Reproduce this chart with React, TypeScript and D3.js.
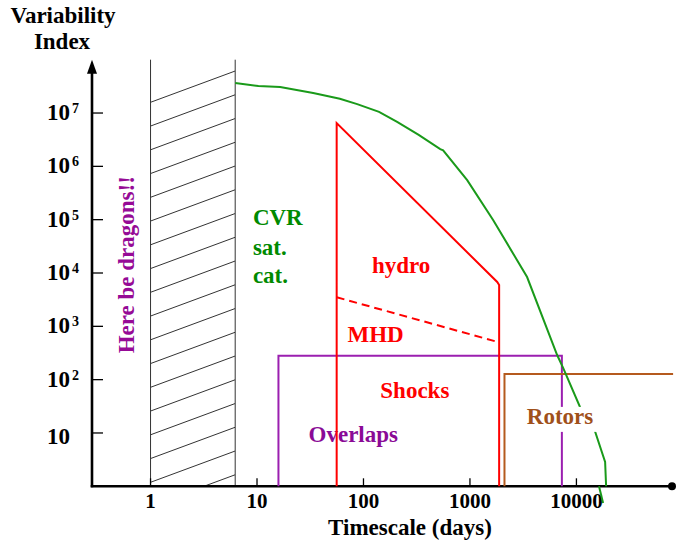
import * as d3 from "d3";

// x: timescale in days, y: variability index
const xTicks = [1, 10, 100, 1000, 10000];
const xTickLabels = ["1", "10", "100", "1000", "10000"];
const yTicks = [10, 1e2, 1e3, 1e4, 1e5, 1e6, 1e7];
const yTickExp = [1, 2, 3, 4, 5, 6, 7];

// CVR saturation catastrophe curve
const cvrDays = [6.24, 10.3, 16.5, 33.7, 60, 87.3, 140, 207, 330, 526, 560, 942, 1650, 3440, 6590, 7500, 10800, 14700, 18600, 19000];
const cvrIndex = [3.66e7, 3.2e7, 3.08e7, 2.37e7, 1.85e7, 1.47e7, 1.05e7, 6.8e6, 3.9e6, 2.1e6, 2.0e6, 5.5e5, 9.9e4, 8400, 290, 166, 30.8, 11.9, 2.86, 1];
const cvrTailDays = [16300, 17800];
const cvrTailIndex = [1, 0.487];

// hydro shocks region
const hydroDays = [56, 56, 1803, 1880, 1880];
const hydroIndex = [1, 6.46e6, 6780, 5960, 1];
// MHD dashed limit
const mhdDays = [56, 1790];
const mhdIndex = [3510, 515];
// overlaps box
const overlapDays = [15.9, 15.9, 7300, 7300];
const overlapIndex = [1, 282, 282, 1];
// rotors
const rotorDays = [2110, 2110, 80900];
const rotorIndex = [1, 127, 127];
// hatched "dragons" band
const dragonDays = [1, 6.24];

// annotation anchors (data coords)
const notes = [
  { text: "CVR", x: 9.15, y: 7.9e4, color: "#008a00" },
  { text: "sat.", x: 9.15, y: 2.18e4, color: "#008a00" },
  { text: "cat.", x: 9.15, y: 6580, color: "#008a00" },
  { text: "hydro", x: 120, y: 1.01e4, color: "#ff0000" },
  { text: "MHD", x: 70.8, y: 515, color: "#ff0000" },
  { text: "Shocks", x: 144, y: 44.8, color: "#ff0000" },
];

const W = 676,
  H = 547;
const FONT = "'Liberation Serif', 'Times New Roman', serif";
const PURPLE = "#9b1fb0";
const BROWN = "#b55a1e";
const GREEN = "#1a9a1a";
const RED = "#ff0000";

const App = () => {
  const xScale = d3.scaleLog().domain([0.282, 79000]).range([92, 672]);
  const yScale = d3.scaleLog().domain([1, 1e8]).range([486.3, 59.7]);

  const line = d3
    .line<[number, number]>()
    .x((d) => xScale(d[0]))
    .y((d) => yScale(d[1]));
  const path = (xs: number[], ys: number[]) =>
    line(xs.map((v, i) => [v, ys[i]]) as [number, number][]) || "";

  const x0 = xScale(0.282);
  const y0 = yScale(1);
  const yTop = yScale(1e8);

  // hatch
  const hx0 = xScale(dragonDays[0]);
  const hx1 = xScale(dragonDays[1]);
  const hatch = d3.range(0, 18).map((k) => {
    const ly = 102.3 + 23.75 * k;
    return (
      <line key={k} x1={hx0} y1={ly} x2={hx1} y2={ly - 31.3} stroke="#333" strokeWidth={1} />
    );
  });

  const rotorX = xScale(3420);
  const rotorY = yScale(14.8);

  return (
    <svg
      width={W}
      height={H}
      style={{ position: "absolute", left: 0, top: 0, background: "#fff" }}
      fontFamily={FONT}
      fontWeight="bold"
    >
      <defs>
        <clipPath id="hatchClip">
          <rect x={hx0} y={yTop} width={hx1 - hx0} height={y0 - yTop} />
        </clipPath>
      </defs>

      {/* axis titles */}
      <text x={63} y={23} textAnchor="middle" fontSize={23}>Variability</text>
      <text x={62} y={49} textAnchor="middle" fontSize={23}>Index</text>
      <text x={410} y={535} textAnchor="middle" fontSize={23}>Timescale (days)</text>

      {/* hatched band */}
      <g clipPath="url(#hatchClip)">{hatch}</g>
      <line x1={hx0} x2={hx0} y1={yTop} y2={y0} stroke="#333" strokeWidth={1} />
      <line x1={hx1} x2={hx1} y1={yTop} y2={y0} stroke="#333" strokeWidth={1} />

      {/* Here be dragons */}
      <text
        transform={`translate(${xScale(0.692)},${yScale(312)}) rotate(-90)`}
        fontSize={23}
        fill="#960a96"
      >
        Here be dragons!!
      </text>

      {/* axes */}
      <line x1={x0} x2={x0} y1={y0 + 1} y2={yTop + 10} stroke="#000" strokeWidth={2.6} />
      <polygon points={`${x0},${yTop} ${x0 - 5},${yTop + 14} ${x0 + 5},${yTop + 14}`} fill="#000" />
      <line x1={x0 - 1.3} x2={672} y1={y0} y2={y0} stroke="#000" strokeWidth={2.6} />
      <circle cx={672} cy={y0} r={4} fill="#000" />

      {yTicks.map((v, i) => (
        <g key={v}>
          <line x1={x0} x2={x0 + 11} y1={yScale(v)} y2={yScale(v)} stroke="#000" strokeWidth={1.3} />
          <text x={47} y={yScale(v) + (yTickExp[i] === 1 ? 11 : 7)} fontSize={23}>10</text>
          {yTickExp[i] !== 1 && (
            <text x={72} y={yScale(v)} fontSize={14}>{yTickExp[i]}</text>
          )}
        </g>
      ))}
      {xTicks.map((v, i) => (
        <g key={v}>
          <line x1={xScale(v)} x2={xScale(v)} y1={y0} y2={y0 - 8} stroke="#000" strokeWidth={1.3} />
          <text x={xScale(v)} y={507.5} textAnchor="middle" fontSize={21}>{xTickLabels[i]}</text>
        </g>
      ))}

      {/* Overlaps label sits under the red line */}
      <text x={xScale(30.5)} y={yScale(6.87)} fontSize={23} fill="#8a0a96">Overlaps</text>

      {/* regions */}
      <path d={path(overlapDays, overlapIndex)} fill="none" stroke={PURPLE} strokeWidth={2} />
      <path d={path(rotorDays, rotorIndex)} fill="none" stroke={BROWN} strokeWidth={2} />
      <path d={path(cvrDays, cvrIndex)} fill="none" stroke={GREEN} strokeWidth={2} />
      <path d={path(cvrTailDays, cvrTailIndex)} fill="none" stroke={GREEN} strokeWidth={2} />
      <path d={path(hydroDays, hydroIndex)} fill="none" stroke={RED} strokeWidth={2} />
      <path d={path(mhdDays, mhdIndex)} fill="none" stroke={RED} strokeWidth={2} strokeDasharray="8,5" />

      {/* Rotors label with white backing */}
      <rect x={rotorX - 5} y={rotorY - 17} width={78} height={25} fill="#fff" />
      <text x={rotorX} y={rotorY} fontSize={23} fill="#a0501a">Rotors</text>

      {notes.map((n) => (
        <text key={n.text} x={xScale(n.x)} y={yScale(n.y)} fontSize={23} fill={n.color}>
          {n.text}
        </text>
      ))}
    </svg>
  );
};

export default App;
